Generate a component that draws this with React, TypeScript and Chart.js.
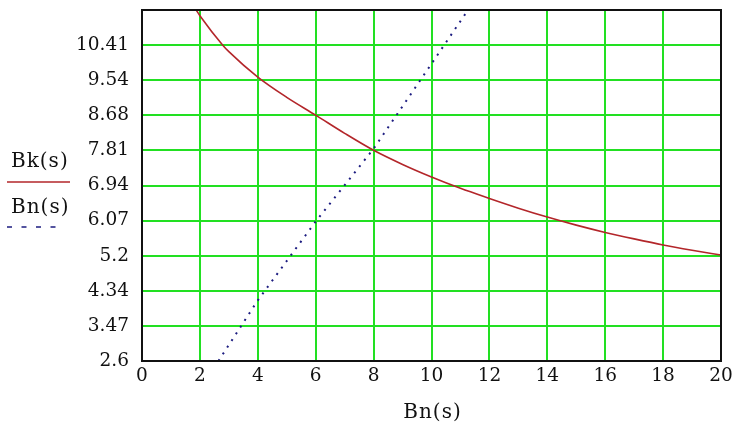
import React, { useEffect, useRef } from 'react';
import { Chart, registerables } from 'chart.js';
Chart.register(...registerables);

// Bk(s) curve (red, solid)
const bkX = [1.87, 2, 2.79, 3, 4, 5, 6, 7, 8, 9, 10, 11, 12, 13, 14, 15, 16, 17, 18, 19, 20];
const bkY = [11.28, 11.14, 10.41, 10.25, 9.62, 9.12, 8.68, 8.23, 7.81, 7.46, 7.15, 6.87, 6.62, 6.38, 6.16, 5.96, 5.78, 5.62, 5.47, 5.34, 5.22];
// Bn(s) line (blue, dotted)
const bnX = [2.64, 4, 6, 8, 10, 11.26];
const bnY = [2.6, 4.1, 6.05, 7.85, 9.95, 11.28];

const xTicks = [0, 2, 4, 6, 8, 10, 12, 14, 16, 18, 20];
const yTicks = [2.6, 3.468, 4.336, 5.204, 6.072, 6.94, 7.808, 8.676, 9.544, 10.412, 11.28];
const yTickLabels = ['2.6', '3.47', '4.34', '5.2', '6.07', '6.94', '7.81', '8.68', '9.54', '10.41', ''];
const legendLabels = ['Bk(s)', 'Bn(s)'];
const xTitle = 'Bn(s)';

const RED = '#b3262a';
const BLUE = '#1c1c80';
const GREEN = '#22e022';
const FONT = 'DejaVu Serif';

export default function App() {
  const ref = useRef<HTMLCanvasElement>(null);
  useEffect(() => {
    if (!ref.current) return;
    const framePlugin = {
      id: 'frame',
      afterDatasetsDraw(chart: any) {
        const { ctx, chartArea: a } = chart;
        ctx.save();
        ctx.strokeStyle = '#111';
        ctx.lineWidth = 2;
        ctx.strokeRect(a.left, a.top, a.right - a.left, a.bottom - a.top);
        ctx.restore();
      },
      afterDraw(chart: any) {
        const { ctx, chartArea: a } = chart;
        ctx.save();
        ctx.fillStyle = '#111';
        ctx.font = `20px "${FONT}"`;
        (ctx as any).letterSpacing = '1px';
        ctx.textBaseline = 'middle';
        ctx.textAlign = 'left';
        ctx.fillText(legendLabels[0], 11, 162);
        ctx.fillText(legendLabels[1], 11, 208);
        ctx.textAlign = 'center';
        ctx.fillText(xTitle, (a.left + a.right) / 2 + 1, 413);
        (ctx as any).letterSpacing = '0px';
        ctx.strokeStyle = RED;
        ctx.lineWidth = 1.5;
        ctx.beginPath();
        ctx.moveTo(7, 182);
        ctx.lineTo(70, 182);
        ctx.stroke();
        ctx.strokeStyle = BLUE;
        ctx.lineWidth = 1.5;
        ctx.setLineDash([5, 9.5]);
        ctx.beginPath();
        ctx.moveTo(7, 227);
        ctx.lineTo(57, 227);
        ctx.stroke();
        ctx.restore();
      },
    };
    const gridColor = (c: any) => {
      const v = c.tick?.value;
      const s = c.scale;
      if (v === undefined) return GREEN;
      if (Math.abs(v - s.min) < 1e-6 || Math.abs(v - s.max) < 1e-6) return 'rgba(0,0,0,0)';
      return GREEN;
    };
    const chart = new Chart(ref.current, {
      type: 'scatter',
      data: {
        datasets: [
          {
            label: legendLabels[0],
            data: bkX.map((x, i) => ({ x, y: bkY[i] })),
            showLine: true,
            borderColor: RED,
            borderWidth: 1.6,
            pointRadius: 0,
            cubicInterpolationMode: 'monotone',
          },
          {
            label: legendLabels[1],
            data: bnX.map((x, i) => ({ x, y: bnY[i] })),
            showLine: true,
            borderColor: BLUE,
            borderWidth: 2,
            borderDash: [2, 6],
            pointRadius: 0,
          },
        ],
      },
      options: {
        animation: false,
        responsive: false,
        maintainAspectRatio: false,
        layout: { padding: { top: 10, right: 13, left: 0, bottom: 0 } },
        plugins: { legend: { display: false }, tooltip: { enabled: false } },
        scales: {
          x: {
            type: 'linear',
            min: 0,
            max: 20,
            afterBuildTicks: (s: any) => {
              s.ticks = xTicks.map((v) => ({ value: v }));
            },
            afterFit: (s: any) => {
              s.height = 62;
              s.paddingLeft = 0;
              s.paddingRight = 0;
            },
            ticks: {
              color: '#111',
              font: { family: FONT, size: 18.5 },
              padding: 4,
              maxRotation: 0,
              autoSkip: false,
              callback: (v: any) => String(v),
            },
            grid: { color: gridColor, lineWidth: 2, drawTicks: false },
            border: { display: false },
          },
          y: {
            type: 'linear',
            min: 2.6,
            max: 11.28,
            afterBuildTicks: (s: any) => {
              s.ticks = yTicks.map((v) => ({ value: v }));
            },
            afterFit: (s: any) => {
              s.width = 142;
              s.paddingTop = 0;
              s.paddingBottom = 0;
            },
            ticks: {
              color: '#111',
              font: { family: FONT, size: 18.5 },
              padding: 13,
              autoSkip: false,
              callback: (_v: any, i: number) => yTickLabels[i],
            },
            grid: { color: gridColor, lineWidth: 2, drawTicks: false },
            border: { display: false },
          },
        },
      },
      plugins: [framePlugin],
    } as any);
    return () => chart.destroy();
  }, []);
  return (
    <div style={{ position: 'fixed', left: 0, top: 0, width: 734, height: 423, background: '#fff' }}>
      <canvas ref={ref} width={734} height={423} style={{ display: 'block' }} />
    </div>
  );
}
